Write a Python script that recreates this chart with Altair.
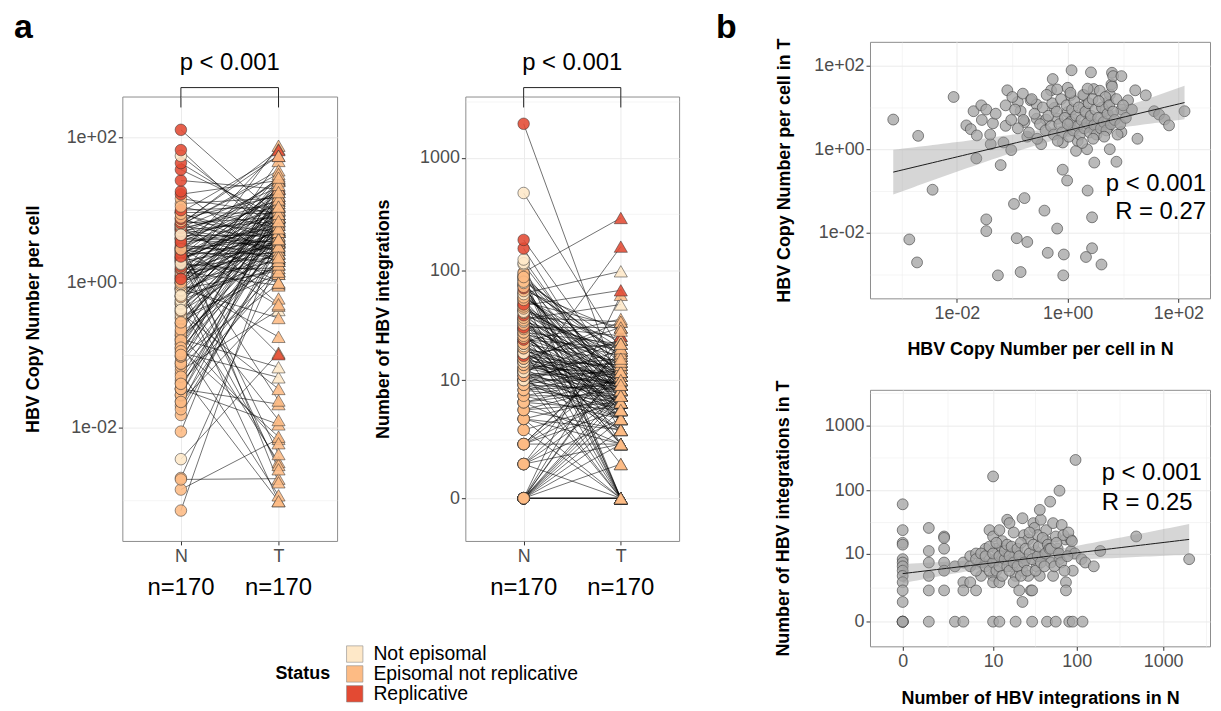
import altair as alt
import numpy as np
import pandas as pd

# ---------------- data ----------------
tissues = ["N", "T"]
status_codes = ["P", "O", "R"]
status_names = ["Not episomal", "Episomal not replicative", "Replicative"]
status_colors = ["#fee8c8", "#fdbb84", "#e34a33"]

# HBV copy number per cell (log10), paired normal (N) / tumour (T)
cn_N_log10 = [
    -3.15, -2.70, -2.06, -2.44, -2.86, -2.72, -1.83, -1.70, -1.75, -1.64,
    -1.56, -1.47, -1.55, -1.35, -1.65, -1.47, -1.47, -1.26, -1.39, -1.21,
    -1.16, -1.12, -1.09, -1.12, -1.02, -1.02, -0.97, -0.92, -0.85, -0.78,
    -0.73, -0.90, -0.81, -0.85, -0.78, -0.73, -0.67, -0.56, -0.56, -0.48,
    -0.42, -0.36, -0.39, -0.30, -0.27, -0.24, -0.19, -0.18, -0.19, -0.09,
    -0.07, -0.08, -0.01, 0.00, 0.05, 0.07, 0.00, 0.03, -0.09, 0.09,
    0.15, 0.18, 0.30, 0.29, 0.33, 0.35, 0.36, 0.44, 0.44, 0.33,
    0.42, 0.47, 0.39, 0.48, 0.47, 0.61, 0.61, 0.67, 0.73, 0.76,
    0.79, 0.80, 0.82, 0.76, 0.88, 0.73, 0.97, 0.97, 0.97, 1.09,
    1.16, 1.22, 1.26, 1.41, 1.56, 1.65, 1.75, 1.83, 2.11, -0.60,
    -0.50, -0.45, -0.40, -0.35, -0.30, -0.28, -0.25, -0.20, -0.15, -0.12,
    -0.10, -0.05, -0.02, 0.02, 0.05, 0.08, 0.10, 0.12, 0.15, 0.18,
    0.20, 0.22, 0.25, 0.28, 0.30, 0.32, 0.35, 0.38, 0.40, 0.42,
    0.45, 0.48, 0.50, 0.52, 0.55, 0.58, 0.60, 0.62, 0.65, 0.68,
    0.70, 0.72, 0.75, 0.78, 0.80, 0.82, 0.85, 0.88, 0.90, -0.70,
    -0.65, -0.80, -0.90, -0.95, -0.55, -0.38, -0.18, 0.00, 0.05, 0.26,
    0.36, 0.46, 0.56, 0.66, 0.95, 1.00, 1.05, -1.30, -1.40, -1.00,
]
cn_T_log10 = [
    0.71, 0.32, 1.25, -0.97, -2.16, -2.71, 0.57, 0.91, 0.48, 0.33,
    1.05, 0.95, 0.70, 0.62, -0.22, -1.68, -1.96, -3.02, 0.12, -0.38,
    0.16, 1.05, 1.41, 0.56, 0.70, -0.02, -1.31, -2.13, -2.94, -1.17,
    -2.22, 1.13, 1.33, 0.91, 0.65, 0.30, 1.17, 1.07, 0.73, 0.12,
    -1.47, -2.48, 0.71, 1.41, 1.68, 0.99, 1.43, 0.73, -1.90, -0.49,
    -2.52, -3.02, -0.75, 1.47, 1.29, 1.89, 0.89, 0.56, 0.16, 0.73,
    -0.04, 0.20, 1.29, 1.02, 0.87, 0.00, -0.99, -1.63, -2.37, -2.58,
    1.84, 1.44, 0.73, -0.32, 0.46, -2.76, 0.56, 0.91, 1.13, 1.31,
    1.55, 1.83, 1.75, 0.00, -0.30, 0.52, 1.75, 0.41, 0.95, 1.17,
    0.95, 1.41, 0.25, 1.29, 0.91, 0.83, 0.71, 0.57, 0.91, 0.85,
    0.60, 1.00, 0.45, 0.80, 0.55, 1.10, 0.35, 0.90, 0.60, 1.20,
    0.40, 0.75, 1.05, 0.30, 0.65, 0.95, 0.45, 1.15, 0.80, 0.55,
    1.00, 0.35, 0.70, 1.30, 0.50, 0.90, 0.62, 1.10, 0.40, 0.80,
    1.20, 0.58, 0.95, 0.35, 0.75, 1.40, 0.50, 1.00, 0.65, 1.25,
    0.45, 0.85, 1.05, 0.60, 1.50, 0.90, 0.70, 1.20, 0.35, 0.40,
    1.20, 0.70, 0.50, 0.95, 0.25, 1.30, 0.20, 0.60, 1.35, 0.15,
    1.45, 0.25, 1.15, 0.30, 0.60, 1.05, 0.75, 0.85, 0.35, 1.25,
]
# P = Not episomal, O = Episomal not replicative, R = Replicative
cn_N_status = "".join([
    "OOOPOOOOOO", "OOOOOOOOOO", "OOOOOOOOOO", "OOOOOOOOPO", "PPOPOPPOPO",
    "POPOPROOPR", "PRRPORPROR", "PROROPRROR", "OROROPOORO", "ORRRRRPRRO",
    "OPOPOPPOPO", "POPROPROPR", "ORPORORPRO", "ROPRORPORO", "RORPOROROO",
    "OOOOOPPORP", "RORPOROOOO",
])
cn_T_status = "".join([
    "OOOOOOOOPO", "OOOOOOOOOP", "OROOOOPOOP", "OOOOPOOOOO", "OOOOOOOOOO",
    "OOOOROOOOO", "OOROOOROOO", "OOOOOOOOOR", "ORROOOOOOR", "OOOOOOOOOO",
    "OOOOOOOOOO", "OOOOOOPOOO", "OOOROOOOOO", "OOOOOOOOOO", "OOOOOOOOOO",
    "OOOOOOOOOO", "OOOOOOOOOO",
])

# Number of HBV integrations, paired N / T
int_N = [
    0, 0, 0, 0, 0, 0, 0, 0, 0, 0,
    0, 0, 0, 0, 0, 0, 1, 1, 1, 1,
    1, 1, 2, 2, 2, 2, 2, 2, 3, 3,
    4, 4, 4, 4, 5, 6, 5, 6, 7, 7,
    8, 9, 9, 10, 10, 10, 10, 10, 11, 11,
    12, 13, 13, 12, 12, 13, 15, 16, 15, 17,
    19, 17, 19, 18, 19, 21, 23, 23, 23, 24,
    25, 27, 27, 29, 30, 30, 31, 32, 33, 34,
    35, 37, 38, 37, 40, 44, 44, 49, 50, 53,
    53, 45, 57, 57, 60, 63, 67, 63, 74, 75,
    75, 82, 85, 86, 90, 90, 97, 95, 114, 117,
    126, 158, 188, 489, 1995, 5, 6, 6, 7, 8,
    8, 9, 9, 10, 10, 11, 11, 12, 12, 13,
    14, 14, 15, 15, 16, 16, 17, 18, 18, 20,
    20, 21, 22, 22, 24, 25, 26, 28, 28, 30,
    31, 33, 35, 36, 38, 40, 42, 43, 46, 48,
    50, 55, 58, 62, 66, 70, 72, 78, 80, 88,
]
int_T = [
    61, 24, 15, 14, 0, 0, 8, 7, 6, 5,
    4, 3, 2, 1, 0, 0, 26, 11, 7, 4,
    2, 0, 19, 18, 12, 7, 5, 2, 6, 0,
    0, 7, 3, 2, 9, 10, 3, 2, 7, 4,
    12, 24, 8, 4, 164, 3, 0, 19, 12, 8,
    24, 12, 9, 3, 0, 16, 35, 31, 9, 10,
    10, 6, 4, 3, 0, 2, 1, 37, 5, 20,
    8, 17, 4, 2, 2, 0, 31, 26, 11, 6,
    20, 4, 35, 50, 9, 24, 16, 67, 7, 31,
    4, 0, 0, 19, 12, 99, 29, 8, 17, 3,
    2, 0, 17, 11, 0, 5, 294, 10, 8, 0,
    7, 6, 11, 19, 8, 6, 5, 8, 10, 6,
    9, 5, 13, 7, 10, 5, 15, 6, 9, 4,
    8, 11, 6, 14, 5, 9, 13, 7, 22, 6,
    12, 9, 15, 4, 7, 12, 5, 10, 22, 8,
    14, 5, 9, 13, 7, 18, 6, 10, 14, 12,
    12, 6, 15, 10, 7, 20, 5, 9, 22, 16,
]
int_N_status = "".join([
    "OOOOOOOOOO", "OOOOOOOOOO", "OOOOOOOOOO", "OOOOPOOOPO", "OPOPOOOPRO",
    "OOPOOPPOOP", "POOOPOOOPO", "OOOOOPRORR", "ROROPPORRR", "OPROOOOPOO",
    "PPPOPOOOPP", "PRRPROPOOP", "OPOOPROOPO", "POOPOOROPO", "OPOOROOPOO",
    "ROPOOROPOO", "ROOPOROPOO",
])
int_T_status = "".join([
    "OOPOOOOOOO", "ROOOOOOOOO", "OOOOOOOOOO", "OOOOROOOOO", "OOOOROOOOO",
    "OOOOOPOROO", "OOOOOOOOOO", "OOOOOOOROO", "OOOPOOOROO", "OOOOOPOOOO",
    "OOOOOOROOO", "OOOOOOOOOO", "ROOOOOPOOO", "OOOOOOOOOO", "OOOOOOOOOO",
    "OOOOOOOOOO", "OOOOOOOOOO",
])

cn_ticks = [0.01, 1, 100]
cn_tick_labels = ["1e-02", "1e+00", "1e+02"]
cn_minor = [0.001, 0.1, 10]
int_ticks = [0, 10, 100, 1000]
int_tick_labels = ["0", "10", "100", "1000"]
int_minor = [2.317, 32.3, 317.0, 3146.0]

p_text = "p < 0.001"
r_text_cn = "R = 0.27"
r_text_int = "R = 0.25"
panel_letters = ["a", "b"]

# ---------------- preparation ----------------
FONT = "Liberation Sans"
GRID = "#ebebeb"
BORDER = "#8c8c8c"

n_pat = len(cn_N_log10)
for arr in [cn_T_log10, cn_N_status, cn_T_status, int_N, int_T, int_N_status, int_T_status]:
    assert len(arr) == n_pat, len(arr)

code2name = dict(zip(status_codes, status_names))
cn_N = [10 ** v for v in cn_N_log10]
cn_T = [10 ** v for v in cn_T_log10]


def long_table(nv, tv, ns, ts):
    rows = []
    for i in range(len(nv)):
        rows.append(dict(id=i, tissue="N", value=nv[i], status=code2name[ns[i]]))
        rows.append(dict(id=i, tissue="T", value=tv[i], status=code2name[ts[i]]))
    return pd.DataFrame(rows)


cn_long = long_table(cn_N, cn_T, cn_N_status, cn_T_status)
int_long = long_table(int_N, int_T, int_N_status, int_T_status)


def fit_band(xt, yt, npts=60):
    xt = np.asarray(xt, float)
    yt = np.asarray(yt, float)
    nn = len(xt)
    xm, ym = xt.mean(), yt.mean()
    sxx = ((xt - xm) ** 2).sum()
    b1 = ((xt - xm) * (yt - ym)).sum() / sxx
    b0 = ym - b1 * xm
    s = np.sqrt(((yt - b0 - b1 * xt) ** 2).sum() / (nn - 2))
    g = np.linspace(xt.min(), xt.max(), npts)
    f = b0 + b1 * g
    se = s * np.sqrt(1.0 / nn + (g - xm) ** 2 / sxx)
    return g, f, f - 1.974 * se, f + 1.974 * se


g, f, lo, hi = fit_band(cn_N_log10, cn_T_log10)
cn_fit = pd.DataFrame({"x": 10 ** g, "fit": 10 ** f, "lo": 10 ** lo, "hi": 10 ** hi})
g, f, lo, hi = fit_band(np.log10(np.array(int_N) + 1), np.log10(np.array(int_T) + 1))
int_fit = pd.DataFrame({"x": 10 ** g - 1, "fit": 10 ** f - 1, "lo": 10 ** lo - 1, "hi": 10 ** hi - 1})

cn_scale = alt.Scale(type="log", domain=[10 ** -3.57, 10 ** 2.57], nice=False)
int_scale = alt.Scale(type="symlog", constant=1, domain=[-1.38, 3470], nice=False, zero=False)


def cont_axis(title, major, labels, minor, title_pad):
    allv = sorted(major + minor)
    test = " || ".join(f"datum.value == {v}" for v in major)
    expr = "''"
    for v, l in zip(major, labels):
        expr = f"datum.value == {v} ? '{l}' : ({expr})"
    return alt.Axis(
        values=allv, labelExpr=expr, labelOverlap=False, labelFlush=False,
        tickOpacity={"condition": {"test": test, "value": 1}, "value": 0},
        gridWidth={"condition": {"test": test, "value": 1.0}, "value": 0.5},
        grid=True, title=title, titlePadding=title_pad,
    )


x_a = alt.X(
    "tissue:N",
    scale=alt.Scale(type="point", domain=tissues, padding=0.6),
    axis=alt.Axis(title=None, labelAngle=0, grid=True, gridWidth=1, labelPadding=3),
)

legend = alt.Legend(
    title="Status", orient="none", legendX=154, legendY=606,
    titleOrient="left", titleAnchor="middle", titleBaseline="middle",
    titleFontSize=18, titleFontWeight="bold", titleColor="black", titlePadding=14,
    symbolType="square", symbolSize=272, symbolStrokeColor="#8c8c8c",
    symbolStrokeWidth=0.6, symbolOpacity=1, labelFontSize=19.5, labelColor="black",
    labelOffset=9, labelLimit=400, rowPadding=-5.5, direction="vertical",
)
fill_enc = alt.Fill("status:N", scale=alt.Scale(domain=status_names, range=status_colors), legend=legend)


def text_layer(txt, x, y, size=24, align="center", baseline="middle", weight="normal"):
    return alt.Chart(pd.DataFrame({"t": [txt]})).mark_text(
        fontSize=size, align=align, baseline=baseline, fontWeight=weight, color="black"
    ).encode(x=alt.value(x), y=alt.value(y), text="t:N")


def slope_panel(df, y_scale, y_axis, W, H):
    base = alt.Chart(df)
    y = alt.Y("value:Q", scale=y_scale, axis=y_axis)
    lines = base.mark_line(color="black", strokeWidth=0.8, opacity=0.7).encode(
        x=x_a, y=y, detail="id:N")
    pts_n = base.transform_filter("datum.tissue == 'N'").mark_point(
        shape="circle", filled=True, size=135, opacity=1, fillOpacity=0.88,
        stroke="#2b2b2b", strokeWidth=0.6, strokeOpacity=0.85,
    ).encode(x=x_a, y=y, fill=fill_enc)
    pts_t = base.transform_filter("datum.tissue == 'T'").mark_point(
        shape="triangle-up", filled=True, size=175, opacity=1, fillOpacity=0.88,
        stroke="#2b2b2b", strokeWidth=0.6, strokeOpacity=0.85,
    ).encode(x=x_a, y=y, fill=fill_enc)
    legs = alt.Chart(pd.DataFrame({"tissue": tissues})).mark_rule(
        color="#222222", strokeWidth=1).encode(x=x_a, y=alt.value(-9), y2=alt.value(11))
    bar = alt.Chart(pd.DataFrame({"tissue": [tissues[0]], "tissue2": [tissues[1]]})).mark_rule(
        color="#222222", strokeWidth=1).encode(x=x_a, x2="tissue2:N", y=alt.value(-9))
    ptxt = text_layer(p_text, W / 2, -34)
    ntxt = alt.Chart(pd.DataFrame({"tissue": tissues, "lab": [f"n={n_pat}"] * 2})).mark_text(
        fontSize=24, baseline="middle", color="black").encode(
        x=x_a, y=alt.value(H + 47), text="lab:N")
    layers = [lines, pts_n, pts_t, legs, bar, ptxt, ntxt]
    return alt.layer(*layers).properties(width=W, height=H)


def scatter_panel(xv, yv, fit, scale, xaxis, yaxis, W, H, texts, letter=None):
    pdf = pd.DataFrame({"N": xv, "T": yv})

    def xe(field):
        return alt.X(f"{field}:Q", scale=scale, axis=xaxis)

    def ye(field):
        return alt.Y(f"{field}:Q", scale=scale, axis=yaxis)

    pts = alt.Chart(pdf).mark_point(
        shape="circle", filled=True, size=120, opacity=1, fill="#a8a8a8",
        fillOpacity=0.8, stroke="#3a3a3a", strokeWidth=0.7, strokeOpacity=0.85,
    ).encode(x=xe("N"), y=ye("T"))
    band = alt.Chart(fit).mark_area(color="#999999", opacity=0.4).encode(
        x=xe("x"), y=ye("lo"), y2="hi:Q")
    line = alt.Chart(fit).mark_line(color="#1a1a1a", strokeWidth=1).encode(
        x=xe("x"), y=ye("fit"))
    layers = [pts, band, line]
    for (txt, x, y, align) in texts:
        layers.append(text_layer(txt, x, y, align=align))
    if letter is not None:
        layers.append(text_layer(letter, -155, -31, size=34, align="left",
                                 baseline="top", weight="bold"))
    return alt.layer(*layers).properties(width=W, height=H)


WA, HA = 216, 447
a_left = slope_panel(
    cn_long, cn_scale,
    cont_axis("HBV Copy Number per cell", cn_ticks, cn_tick_labels, cn_minor, 24),
    WA, HA)
a_right = slope_panel(
    int_long, int_scale,
    cont_axis("Number of HBV integrations", int_ticks, int_tick_labels, int_minor, 27),
    WA - 1, HA)

# small empty strip above panel a carrying the panel letter
spacer_a = text_layer(panel_letters[0], -109, -31, size=34, align="left",
                      baseline="top", weight="bold").properties(
    width=10, height=2, view=alt.ViewBackground(stroke="transparent"))

WB, HB = 342, 258
b_top = scatter_panel(
    cn_N, cn_T, cn_fit, cn_scale,
    cont_axis("HBV Copy Number per cell in N", cn_ticks, cn_tick_labels, cn_minor, 18),
    cont_axis("HBV Copy Number per cell in T", cn_ticks, cn_tick_labels, cn_minor, 20),
    WB, HB,
    [(p_text, WB - 4, 143, "right"), (r_text_cn, WB - 4, 171, "right")],
    letter=panel_letters[1])
b_bottom = scatter_panel(
    int_N, int_T, int_fit, int_scale,
    cont_axis("Number of HBV integrations in N", int_ticks, int_tick_labels, int_minor, 20),
    cont_axis("Number of HBV integrations in T", int_ticks, int_tick_labels, int_minor, 32),
    WB, HB,
    [(p_text, 233, 84, "left"), (r_text_int, 233, 114, "left")])

panel_a = alt.vconcat(spacer_a, alt.hconcat(a_left, a_right, spacing=36), spacing=4)
panel_b = alt.vconcat(b_top, b_bottom, spacing=20)

chart = alt.hconcat(panel_a, panel_b, spacing=35).properties(
    padding={"left": 5, "top": 0, "right": 2, "bottom": 0}
).configure(font=FONT).configure_view(
    stroke=BORDER, strokeWidth=1
).configure_axis(
    labelFont=FONT, labelFontSize=18, labelColor="#4d4d4d",
    titleFont=FONT, titleFontSize=18, titleFontWeight="bold", titleColor="black",
    tickColor="#333333", tickSize=4, tickWidth=1, domain=False,
    gridColor=GRID, labelPadding=2,
)

chart.save("out.html", embed_options={"renderer": "svg", "actions": False})
